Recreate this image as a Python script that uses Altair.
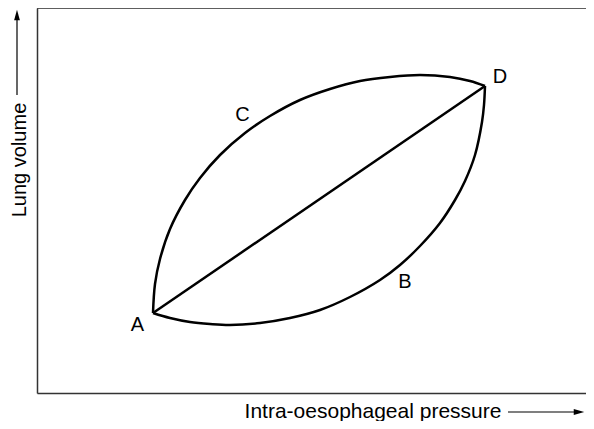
import altair as alt
import pandas as pd

# Upper limb A -> C -> D (pressure, volume in arbitrary units)
upper_p = [23.2, 23.6, 24.6, 26.6, 29.6, 32.6, 36.6, 41.6, 46.6, 52.6, 58.6, 64.6, 70.6, 76.6, 82.6, 86.6, 89.6]
upper_v = [20.0, 27.25, 33.5, 41.0, 48.25, 53.75, 59.5, 65.0, 69.25, 73.25, 76.0, 78.0, 79.0, 79.5, 79.0, 78.0, 76.75]
# Lower limb A -> B -> D
lower_p = [23.2, 26.6, 30.6, 34.6, 38.6, 44.6, 50.6, 56.6, 62.6, 68.6, 72.6, 76.6, 80.6, 83.6, 85.6, 87.6, 89.0, 89.4, 89.6]
lower_v = [20.0, 18.75, 17.75, 17.25, 17.0, 17.5, 18.75, 20.75, 24.0, 28.25, 32.0, 36.75, 42.5, 48.25, 53.0, 59.5, 67.75, 72.0, 76.75]
# Straight chord A -> D
chord_p = [23.2, 89.6]
chord_v = [20.0, 76.75]

label_text = ["A", "B", "C", "D"]
label_p = [20.1, 73.6, 41.1, 92.6]
label_v = [17.0, 27.75, 69.6, 79.0]

x_title = "Intra-oesophageal pressure"
y_title = "Lung volume"

FONT = "Liberation Sans, Arial, Helvetica, sans-serif"
FRAME = "#333333"

rows = []
for name, ps, vs in [("upper", upper_p, upper_v), ("lower", lower_p, lower_v), ("chord", chord_p, chord_v)]:
    for i, (p, v) in enumerate(zip(ps, vs)):
        rows.append({"curve": name, "i": i, "p": p, "v": v})
lines_df = pd.DataFrame(rows)
labels_df = pd.DataFrame({"t": label_text, "p": label_p, "v": label_v})
one = pd.DataFrame({"a": [0]})

W, H = 549, 385
xs = alt.Scale(domain=[0, 109.8], nice=False, zero=False)
ys = alt.Scale(domain=[0, 96.25], nice=False, zero=False)
ax = dict(title=None, labels=False, ticks=False, grid=False,
          domainColor=FRAME, domainWidth=1.5, domainOpacity=1)

lines = alt.Chart(lines_df).mark_line(
    color="black", strokeWidth=2.5, interpolate="catmull-rom"
).encode(
    x=alt.X("p:Q", scale=xs, axis=alt.Axis(**ax)),
    y=alt.Y("v:Q", scale=ys, axis=alt.Axis(**ax)),
    detail="curve:N",
    order="i:Q",
)

labels = alt.Chart(labels_df).mark_text(
    font=FONT, fontSize=20, color="black", baseline="middle", align="center"
).encode(
    x=alt.X("p:Q", scale=xs),
    y=alt.Y("v:Q", scale=ys),
    text="t:N",
)

top_rule = alt.Chart(one).mark_rule(color=FRAME, strokeWidth=1.5).encode(
    x=alt.value(0), x2=alt.value(W), y=alt.value(0)
)

xtitle = alt.Chart(one).mark_text(
    text=x_title, font=FONT, fontSize=21, color="black", baseline="middle", align="center"
).encode(x=alt.value(336), y=alt.value(404))

ytitle = alt.Chart(one).mark_text(
    text=y_title, font=FONT, fontSize=20, color="black", baseline="alphabetic", align="center", angle=270
).encode(x=alt.value(-11), y=alt.value(152))

x_arrow = alt.Chart(one).mark_rule(color="black", strokeWidth=1.2).encode(
    x=alt.value(471), x2=alt.value(540), y=alt.value(404)
)
x_head = alt.Chart(one).mark_point(
    shape="M-1,-0.55L1,0L-1,0.55Z", filled=True, color="black", opacity=1, size=110
).encode(x=alt.value(542), y=alt.value(404))

y_arrow = alt.Chart(one).mark_rule(color="black", strokeWidth=1.2).encode(
    x=alt.value(-20), y=alt.value(87), y2=alt.value(10)
)
y_head = alt.Chart(one).mark_point(
    shape="M-0.55,1L0,-1L0.55,1Z", filled=True, color="black", opacity=1, size=110
).encode(x=alt.value(-20), y=alt.value(7))

chart = alt.layer(
    lines, labels, top_rule, xtitle, ytitle, x_arrow, x_head, y_arrow, y_head
).properties(
    width=W, height=H,
    padding={"left": 29, "top": 0, "right": 0, "bottom": 28},
    autosize=alt.AutoSizeParams(type="none"),
).configure_view(stroke=None).configure_axis(
    domainColor=FRAME, domainWidth=1.5
).configure(background="white")

chart.save("out.html", embed_options={"renderer": "svg", "actions": False})
